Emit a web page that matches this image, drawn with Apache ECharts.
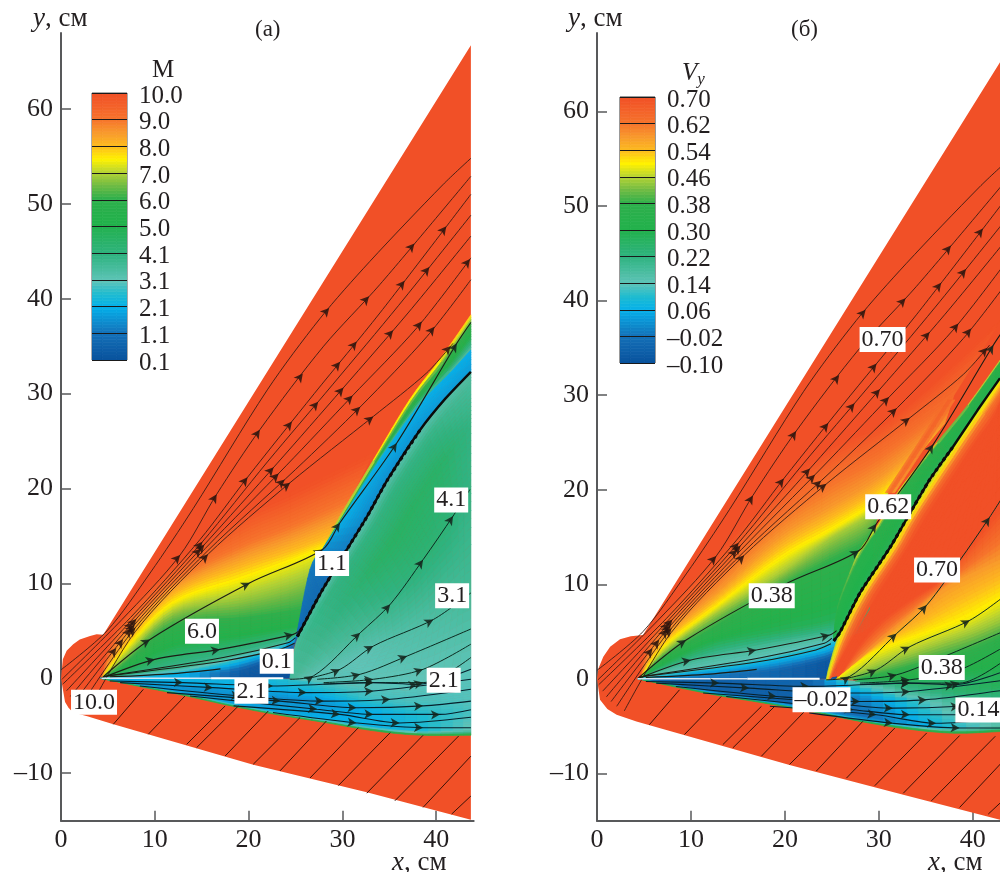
<!DOCTYPE html>
<html><head><meta charset="utf-8">
<style>html,body{margin:0;padding:0;background:#fff}#c{width:1000px;height:872px}</style>
<script src="https://cdn.jsdelivr.net/npm/echarts@6/dist/echarts.min.js"></script>
</head><body><div id="c"></div>
<script>
// ---- tick labels and colour levels
const xTicks=[0,10,20,30,40];
const yTicks=[-10,0,10,20,30,40,50,60];
const levelsM=['0.1','1.1','2.1','3.1','4.1','5.0','6.0','7.0','8.0','9.0','10.0'];
const levelsV=['–0.10','–0.02','0.06','0.14','0.22','0.30','0.38','0.46','0.54','0.62','0.70'];
// colour scale of the legend: [fraction, colour]
const palette=[[0,'#08519c'],[.1,'#1470b8'],[.2,'#05b0ea'],[.25,'#1fbcd0'],[.3,'#5ec4b8'],[.4,'#2fb380'],[.5,'#22b14c'],[.6,'#2eb04c'],[.65,'#6fbb44'],[.7,'#b5d334'],[.75,'#fff200'],[.8,'#fdbb1f'],[.85,'#f89a2c'],[.9,'#f6742c'],[1,'#f15027']];

// ---- panel (a), Mach number. Field rows: [x, y, M]
const domainA=[[43.7,66.7],[4.5,4.6],[3.8,4.65],[3.1,4.45],[2,4.1],[1.3,3.6],[.6,2.9],[.2,2],[0,0],[.43,-2.5],[.8,-3.1],[1.3,-3.6],[2.8,-4.0],[5.5,-4.8],[20.5,-9.1],[32.6,-12],[43.7,-14.9]];
const fanA=[
[[4.23,0,3.5],[8.42,.42,3.6],[13.75,1.12,3.6],[19.08,2.35,3.6],[24.06,3.76,3.5],[25.1,4.46,3.5]],
[[4.23,0,5],[6.65,.95,5],[11.98,3.4,5],[19.08,4.46,5],[24.42,5.34,5],[27.97,5.86,5]],
[[4.23,0,6],[6.65,1.47,6],[11.98,5.51,6],[19.08,6.21,6],[24.42,6.91,6],[27.97,7.62,6]],
[[4.23,0,6.7],[6.65,2,6.7],[11.98,6.74,6.7],[19.08,7.97,6.7],[24.42,9.37,6.7],[27.97,10.77,6.7]],
[[4.23,0,7.5],[6.65,2.88,7.5],[11.98,7.97,7.5],[19.08,10.42,7.5],[24.42,12.35,7.5],[27.97,13.76,7.5]],
[[4.23,0,8],[6.65,3.4,8],[11.98,8.84,8],[19.08,11.65,8],[24.42,13.41,8],[28.68,14.98,8]],
[[4.23,0,9],[6.29,4.46,9],[11.98,10.25,9],[19.08,13.93,9],[24.42,16.04,9],[30.81,18.84,9]],
[[4.23,0,10],[5.93,5.51,10],[11.98,12.18,10],[19.08,17.09,10],[24.42,19.55,10],[33.3,23.76,10]]];
const plateA=[
[[4.23,0,2.2],[8.42,0,2.2],[13.75,0,2],[19.08,0,.3],[24.06,0,.1],[24.6,0,.1]],
[[4.23,0,2.4],[8.42,.25,2.3],[13.75,.6,2],[19.08,.9,.6],[24.06,2.7,.3],[24.6,3,.2]],
[[4.23,0,3.2],[8.42,.42,3.2],[13.75,1.12,3.2],[19.08,2.35,3.2],[24.06,3.76,3],[25.1,4.46,2]]];
const lowerA=[
[[4.23,0,2.1],[8,-.02,2.1],[13,-.03,2.2],[18,-.03,2.2],[23,-.05,2.5],[28,-.4,3],[33,-1,3],[38,-1.2,3],[43.7,-.2,3]],
[[4.23,0,2],[8,-.3,2],[13,-.55,2.1],[18,-.8,2.2],[23,-1,2.2],[28,-1.3,2.5],[33,-2.2,2.8],[38,-2.6,2.9],[43.7,-2.2,3]],
[[4.23,0,1.8],[8,-.45,1.9],[13,-1,1.6],[18,-1.6,1.6],[23,-2.2,1.5],[28,-2.6,1.7],[33,-3.4,2.1],[38,-3.9,2.5],[43.7,-3.7,2.9]],
[[4.23,0,1.5],[8,-.7,1.8],[13,-1.6,1.8],[18,-2.65,1.9],[23,-3.6,2],[28,-4.35,2.1],[33,-5.15,2.2],[38,-5.6,2.4],[43.7,-5.5,3.2]],
[[4.23,0,3.5],[8,-.73,3.5],[13,-1.7,3.5],[18,-2.8,3.5],[23,-3.75,3.5],[28,-4.55,3.5],[33,-5.35,3.5],[38,-5.85,3.8],[43.7,-5.85,4.2]],
[[4.23,0,7.6],[8,-.78,7.6],[13,-1.78,7.6],[18,-2.88,7.6],[23,-3.83,7.6],[28,-4.63,7.6],[33,-5.48,7.6],[38,-5.98,7.6],[43.7,-6,7.6]]];
const rightA=[
[[24.4,0,3.6],[25.3,4.6,3.6],[27.8,9.2,3.2],[30.5,13.6,3.2],[32.6,17,3.2],[34.8,20.9,3.2],[38.3,26.2,3.2],[41,29.5,3.3],[43.7,32.3,3.4]],
[[24.6,0,3.5],[26,4.2,3.8],[28.6,8.9,4],[31.4,13.2,4],[33.5,16.5,4],[35.7,20.3,4],[39.2,25.6,3.9],[41.9,28.9,3.7],[43.7,30.8,3.6]],
[[24.9,0,3.5],[27.2,3.6,3.8],[30.2,7.8,4.1],[33.2,11.6,4.5],[35.5,14.6,4.6],[37.5,18,4.6],[40.5,22.5,4.5],[42.5,25,4.2],[43.7,26.5,4]],
[[25.5,0,3.3],[28.5,2.5,3.5],[32,5.5,3.7],[35,8.5,4],[37.5,11.2,4.2],[39.5,14,4.3],[41.5,16.5,4.2],[43,18.5,4],[43.7,19.5,4]],
[[26,-.1,3.1],[29,1,3.1],[32.5,2.5,3.1],[35.5,4,3.3],[38,5.6,3.4],[40,7.2,3.5],[42,9,3.6],[43,10,3.7],[43.7,10.5,3.7]],
[[24.5,-.1,3],[27,-.3,3],[30,-.6,3],[33,-1,3],[36,-1.2,3],[38.5,-1.2,3],[40.5,-1,3],[42.5,-.5,3],[43.7,-.2,3]]];
const stripA=[
[[27.97,13.76,8],[29.7,17,8],[33.3,23,8],[37.2,29.4,8],[40.4,33.6,8],[43.7,38.3,8]],
[[27.97,13.7,6],[29.9,16.9,6],[33.5,22.8,6],[37.5,29.1,6],[40.8,33.2,6],[43.7,37.3,6]],
[[28,13.7,5],[29.9,16.8,5],[33.65,22.8,5],[37.75,28.85,5],[41.15,32.7,5],[43.7,36,5]],
[[28,13.7,3.4],[29.9,16.7,3.4],[33.8,22.8,3.4],[38,28.6,3.4],[41.5,32.2,3.4],[43.7,34.6,3.4]]];
const blueA=[
[[24.6,2.5,.9],[25.1,4.5,1],[26.55,11.5,1.2],[28,13.8,1.6],[29.9,16.7,2.1],[33.8,22.8,2.1],[38,28.6,2.1],[41.5,32.2,2.1],[43.7,34.6,2.1]],
[[24.6,2.5,.8],[25.3,4.6,.8],[27.8,9.2,.9],[30.5,13.6,1.3],[32.6,17,1.5],[34.8,20.9,1.6],[38.3,26.2,1.7],[41,29.5,1.8],[43.7,32.3,1.8]]];
const shockA=[[25.2,4.4],[27.8,9.2],[30.5,13.6],[32.6,17],[34.8,20.9],[38.3,26.2],[41,29.5],[43.7,32.3]];
const labelsA=[['10.0',3.52,-2.53],['6.0',15.03,4.95],['0.1',23,1.79],['2.1',20.3,-1.37],['1.1',28.9,12.1],['4.1',41.6,18.8],['3.1',41.7,8.7],['2.1',40.8,-.2]];

// ---- panel (b), V_y. Field rows: [x, y, Vy]
const domainB=[[42.9,65.2],[4.9,4.64],[3.6,4.5],[2.45,4.18],[1.4,3.4],[.67,2.35],[.15,1.1],[0,0],[.32,-2.2],[1.1,-3.2],[2.09,-3.8],[4.2,-4.5],[20.5,-9.1],[32.6,-12.25],[42.9,-14.9]];
const fanB=[
[[4.5,0,.14],[7.06,.5,.14],[12.37,1.25,.14],[19.47,2.71,.14],[24.8,4,.14],[28.33,5,.14],[29,5.5,.14]],
[[4.5,0,.18],[7.06,.95,.18],[12.37,2.35,.18],[19.47,3.76,.18],[24.8,4.64,.18],[28.33,5.17,.18],[29,6,.18]],
[[4.5,0,.28],[7.06,1.47,.28],[12.37,3.76,.28],[19.47,5.17,.28],[24.8,6.23,.28],[28.33,7.63,.28],[29,8.5,.28]],
[[4.5,0,.38],[7.06,2.35,.38],[12.37,5.52,.38],[19.47,9.75,.38],[24.8,12.56,.38],[28.33,14.32,.38],[29.5,16,.38]],
[[4.5,0,.45],[7.06,2.88,.45],[12.37,6.75,.45],[19.47,11.15,.45],[24.8,14.85,.45],[28.69,17.14,.45],[30.5,19,.45]],
[[4.5,0,.5],[7.06,3.41,.5],[12.37,7.46,.5],[19.47,12.74,.5],[24.8,15.73,.5],[29.4,18.55,.5],[32,21,.5]],
[[4.5,0,.58],[6.7,4.11,.58],[12.37,8.87,.58],[19.47,15.03,.58],[24.8,18.19,.58],[30.1,21.36,.58],[37,27,.58]],
[[4.5,0,.64],[6.35,4.82,.64],[12.37,10.8,.64],[19.47,17.84,.64],[24.8,21.71,.64],[30.1,24.53,.64],[38,30,.64]],
[[4.5,0,.7],[6,5.52,.7],[12.37,12.91,.7],[19.47,20.31,.7],[24.8,24.53,.7],[31.9,28.05,.7],[43,38,.7]]];
const plateB=[
[[4.5,0,.06],[8.83,0,0],[14.15,0,-.02],[19.47,0,-.05],[24.43,0,-.09],[25.5,0,-.09]],
[[4.5,0,.06],[8.83,.24,0],[14.15,.52,-.02],[19.47,.95,-.05],[24.43,2,-.08],[25.5,2.7,-.06]],
[[4.5,0,.08],[8.83,.52,.06],[14.15,1.12,.06],[19.47,2,.06],[24.43,3.06,.06],[25.5,3.58,.05]],
[[4.5,0,.12],[8.83,.77,.14],[14.15,1.65,.14],[19.47,2.71,.14],[24.43,3.94,.14],[25.5,4.47,.12]]];
const lowerB=[
[[4.4,0,-.02],[8,-.02,-.04],[13,-.03,-.05],[18,-.03,-.05],[23,-.05,-.05],[28,-.25,.2],[33,-.55,.24],[38,-.7,.25],[42.9,.2,.28]],
[[4.4,0,-.02],[8,-.3,-.05],[13,-.55,-.06],[18,-.8,-.06],[23,-1,-.04],[28,-1,.1],[33,-1.2,.2],[38,-1.3,.25],[42.9,-.7,.28]],
[[4.4,0,-.03],[8,-.45,-.06],[13,-1,-.06],[18,-1.5,-.06],[23,-2.2,-.05],[28,-2.1,0],[33,-2.3,.1],[38,-2.5,.18],[42.9,-2.1,.22]],
[[4.4,0,-.02],[8,-.62,-.05],[13,-1.5,-.05],[18,-2.3,-.05],[23,-3.2,-.04],[28,-4,-.03],[33,-4.8,.03],[38,-5.2,.1],[42.9,-5,.16]],
[[4.4,0,.1],[8,-.7,.12],[13,-1.7,.12],[18,-2.52,.12],[23,-3.42,.12],[28,-4.42,.12],[33,-5.15,.14],[38,-5.6,.2],[42.9,-5.42,.22]],
[[4.4,0,.5],[8,-.79,.5],[13,-1.78,.5],[18,-2.6,.5],[23,-3.5,.5],[28,-4.5,.5],[33,-5.3,.5],[38,-5.75,.5],[42.9,-5.57,.5]]];
const coreB=[
[[24.4,-.1,.46],[24.6,.9,.46],[25.85,4.9,.46],[28,9.1,.46],[31.2,13.9,.46],[33.3,17.5,.46],[37.9,24.55,.46],[40.5,28.4,.46],[42.9,31.8,.46]],
[[24.6,-.1,.5],[24.85,.9,.5],[26.2,4.8,.5],[28.35,9,.5],[31.55,13.8,.5],[33.65,17.4,.5],[38.25,24.4,.5],[40.85,28.2,.5],[42.9,31.3,.5]],
[[24.8,0,.62],[25.2,1.1,.62],[26.7,4.7,.62],[28.9,8.9,.62],[32.1,13.7,.62],[34.2,17.3,.62],[38.8,24.2,.62],[41.4,28,.62],[42.9,30.2,.62]],
[[25,.2,.7],[25.6,1.4,.7],[27.4,4.6,.7],[29.7,8.8,.7],[32.9,13.6,.7],[35,17.2,.7],[39.6,24,.7],[42,27.3,.7],[42.9,29,.7]]];
const rightB=[
[[25,.2,.7],[27.4,4.6,.7],[32.9,13.6,.7],[39.6,24,.7],[42,27.3,.7],[42.9,29,.7]],
[[26,.4,.7],[28,3.5,.7],[30.1,5.9,.7],[33.65,8.5,.7],[37.2,11,.7],[42.9,18,.7]],
[[25.8,.1,.58],[28.3,2.35,.58],[31,4.7,.58],[33.65,6.9,.58],[37.2,9.75,.58],[42.9,12.6,.58]],
[[25.5,0,.5],[28,1.9,.5],[30.1,3.06,.5],[35,4.8,.5],[39.3,6.4,.5],[42.9,8.4,.5]],
[[26.56,0,.44],[29,1,.44],[31.9,2,.44],[37.2,3.76,.44],[40,4.7,.44],[42.9,5.9,.44]],
[[28.3,-.1,.34],[31,.2,.34],[33.65,.6,.34],[38.3,1.65,.34],[41,2.5,.34],[42.9,3.4,.34]],
[[27.5,-.25,.24],[31,-.4,.24],[34,-.6,.24],[38,-.7,.24],[41,-.4,.26],[42.9,.2,.28]]];
const stripB=[
[[25.2,4.4,.3],[25.6,7.6,.4],[26.9,11.2,.44],[28,13.65,.5],[29.8,16.1,.5],[32.2,20,.5],[36.2,25,.5],[39.5,29,.5],[42.9,33.7,.5]],
[[25.2,4.32,.3],[25.65,7.06,.33],[27.12,10.78,.34],[28.64,13.7,.34],[30.5,16.38,.34],[32.84,20.2,.34],[36.5,24.9,.34],[39.7,28.88,.34],[42.9,33.28,.34]],
[[25.2,4,.28],[25.85,4.9,.28],[28,9.1,.28],[31.2,13.9,.28],[33.3,17.5,.28],[35.4,21.05,.28],[37.9,24.55,.28],[40.5,28.4,.28],[42.9,31.8,.28]]];
const streakB=[
[[30.7,19.7,.58],[33.9,24.5,.61],[37.1,29.5,.63]],
[[31.2,19.7,.65],[34.4,24.5,.66],[37.6,29.5,.67]],
[[31.7,19.7,.56],[34.9,24.5,.59],[38.1,29.5,.61]]];
const shockB=[[25.2,4],[25.85,4.9],[28,9.1],[31.2,13.9],[33.3,17.5],[35.4,21.05],[37.9,24.55],[40.5,28.4],[42.9,31.8]];
const labelsB=[['0.70',30.4,35.9],['0.62',31,18.2],['0.70',36.2,11.5],['0.38',18.6,8.8],['0.38',36.7,1.2],['–0.02',23.9,-2.2],['0.14',40.6,-3.3]];

// ---- streamlines, the same flow in both panels
const upperStreams=[
[[0,.9],[4.9,5],[9.5,11.1],[14.1,17.9],[22,30.4],[27.6,37.9],[32.9,43.9],[40.7,52],[43.7,54.8]],
[[.1,-.1],[6.5,6.2],[12.7,13],[16.6,19.4],[21.2,26.2],[28,35],[34,41.5],[43.7,52.9]],
[[.2,-.6],[7.4,6.4],[14.8,14.6],[19.9,21.2],[27,30],[34,38.5],[43.7,51]],
[[.6,-1.3],[7.5,6.1],[15,14.3],[22,22.8],[29,31],[36,39.3],[43.7,48.8]],
[[1,-1.9],[7.6,5.8],[15.2,14],[23,22.6],[30,30.5],[37,38.5],[43.7,46.6]],
[[1.5,-2.4],[7.7,5.5],[15.4,13.7],[24,22.4],[31,29.7],[38,37],[43.7,44.3]],
[[2.1,-2.9],[7.8,5.2],[15.6,13.4],[25,22],[32,28.7],[39,36],[43.7,42]],
[[2.9,-3.4],[7.9,4.9],[15.7,13.1],[24.4,20.6],[33.3,27.6],[39,32.2],[41.8,35.3]]];
// where the arrow heads sit on the upper streamlines
const upperArrowMarks=[[21.2,26.2],[24.2,27.4],[20,21.1],[22.6,22.3],[23.2,21.6],[23.9,20.9],[24.6,20.4],[25.3,32.5],[28.85,34.1],[27.6,29],[30.5,30.3],[31.5,29.4],[32.2,28.3],[33.3,27.6],[29.2,38.5],[32.9,40.2],[31.9,35.2],[35.4,36.7],[38.45,37.6],[40,36.9],[40.8,35.7],[37,46.4],[36.5,42],[39.7,43],[40.6,48],[43.2,44.5],[16.6,19.4],[12.7,13],[15.2,14.3],[15.7,13.05],[15,13.6],[15.4,14],[7.7,5.7],[7.4,5.3],[8.1,6.2],[7.6,6],[7.9,5.4],[6.65,4.1],[5.9,3.2]];
const fanStreams=[
[[4.3,0],[9.49,4.1],[20.15,10.07],[27.9,13.58],[29.74,16.4],[35.8,24.8],[42.2,35.3],[43.7,37.5]],
[[4.3,0],[10,2],[16.95,3.05],[24.77,4.63],[25.5,5.1]],
[[4.5,.2],[17.3,2.2],[24.2,3.76],[25,4.3]],
[[4.9,.25],[17.3,1.83],[23.3,3.05],[24.9,3.7]],
[[5.2,.15],[12,.5],[17,1]]];
const rightStreams=[
[[24.4,-.1],[26.9,.25],[31.9,4.8],[35.1,7.8],[38.6,12.5],[41.8,17.1],[43.6,19.9]],
[[26.2,-.03],[29.75,.95],[33.3,3.4],[39.7,6.2],[43.7,9]],
[[27.3,-.1],[31.9,.43],[36.9,2.35],[43.7,5.2]],
[[28,-.45],[33.3,-.1],[38.6,.95],[43.7,3.6]],
[[28,-.6],[33.3,-.45],[38.6,-.45],[43.7,2.2]]];
const lowerStreams=[
[[5.2,-.28],[13,-.45],[22.6,-.8],[33.3,-.45],[38,-.63],[43.7,.95]],
[[6.3,-.45],[16.2,-.98],[26.2,-1.5],[33.3,-1.33],[43.7,-.1]],
[[8.4,-.8],[19.1,-1.86],[28,-2.4],[35.1,-2.2],[43.7,-1.15]],
[[11.3,-1.5],[23.4,-2.4],[31.5,-3.1],[38.6,-2.9],[43.7,-2.4]],
[[13.75,-1.86],[27.3,-3.26],[33.3,-3.8],[40.4,-3.8],[43.7,-3.3]],
[[18.4,-2.9],[29.75,-3.8],[36.1,-4.7],[43.7,-4.1]],
[[22.6,-3.6],[31.5,-4.7],[38.6,-5.2],[43.7,-5.2]]];
const incomingStreams=[
[[5.58,-4.84],[8.78,-1.16]],[[9.31,-5.89],[13.22,-1.86]],[[13.4,-6.95],[17.5,-2.91]],[[14.46,-7.3],[18.91,-2.91]],
[[17.5,-8.18],[22.1,-3.44]],[[20.5,-9.05],[25.48,-4.14]],[[23.35,-9.75],[28.3,-4.49]],[[26.55,-10.5],[31.7,-5.2]],
[[29.57,-11.3],[35.1,-5.72]],[[32.6,-12.1],[38.6,-6]],[[35.6,-12.9],[42.4,-6.07]],[[38.6,-13.6],[43.7,-8.2]],[[41.65,-14.3],[43.7,-12.4]]];

// ---- drawing helpers
const FONT='"Liberation Serif",serif', INK='#231f20';
const hex=c=>[1,3,5].map(i=>parseInt(c.substr(i,2),16));
function colorAt(f){
  f=Math.max(0,Math.min(1,f));
  for(let i=1;i<palette.length;i++){
    if(f<=palette[i][0]){
      const a=palette[i-1],b=palette[i],t=(f-a[0])/(b[0]-a[0]),A=hex(a[1]),B=hex(b[1]);
      return 'rgb('+A.map((v,k)=>Math.round(v+(B[k]-v)*t)).join(',')+')';
    }
  }
  return palette[palette.length-1][1];
}
const fracM=v=>(v-.1)/9.9, fracV=v=>(v+.1)/.8;
function spline(P,j,t){
  const n=P.length,p0=P[Math.max(j-1,0)],p1=P[j],p2=P[j+1],p3=P[Math.min(j+2,n-1)],t2=t*t,t3=t2*t;
  return [0,1].map(k=>.5*(2*p1[k]+(p2[k]-p0[k])*t+(2*p0[k]-5*p1[k]+4*p2[k]-p3[k])*t2+(3*p1[k]-p0[k]-3*p2[k]+p3[k])*t3));
}
const dist=(a,b)=>Math.hypot(a[0]-b[0],a[1]-b[1]);
function mesh(rows,frac,g){
  return {type:'custom',coordinateSystem:'cartesian2d',xAxisIndex:g,yAxisIndex:g,clip:true,silent:true,animation:false,z:2,
    data:[[rows[0][0][0],rows[0][0][1]]],
    renderItem:(p,api)=>{
      const pix=rows.map(r=>r.map(q=>api.coord([q[0],q[1]]))),children=[];
      for(let i=0;i<rows.length-1;i++){
        const A=pix[i],B=pix[i+1];
        for(let j=0;j<A.length-1;j++){
          const na=Math.max(1,Math.min(8,Math.ceil(Math.max(dist(A[j],A[j+1]),dist(B[j],B[j+1]))/12)));
          const nb=Math.max(1,Math.min(10,Math.ceil(Math.max(dist(A[j],B[j]),dist(A[j+1],B[j+1]))/3)));
          const va=rows[i][j][2],vb=rows[i][j+1][2],vc=rows[i+1][j][2],vd=rows[i+1][j+1][2];
          let prev=null;
          for(let s=0;s<=na;s++){
            const t=s/na,a=spline(A,j,t),b=spline(B,j,t),col=[];
            for(let m=0;m<=nb;m++){const w=m/nb;col.push([a[0]+(b[0]-a[0])*w,a[1]+(b[1]-a[1])*w]);}
            if(prev){
              for(let m=0;m<nb;m++){
                const tc=(s-.5)/na,wc=(m+.5)/nb;
                const v=(va*(1-tc)+vb*tc)*(1-wc)+(vc*(1-tc)+vd*tc)*wc,c=colorAt(frac(v));
                children.push({type:'polygon',shape:{points:[prev[m],col[m],col[m+1],prev[m+1]]},style:{fill:c,stroke:c,lineWidth:.7}});
              }
            }
            prev=col;
          }
        }
      }
      return {type:'group',children};
    }};
}
function solid(pts,g,color){
  return {type:'custom',coordinateSystem:'cartesian2d',xAxisIndex:g,yAxisIndex:g,clip:true,silent:true,animation:false,z:1,
    data:[pts[0]],
    renderItem:(p,api)=>({type:'polygon',shape:{points:pts.map(q=>api.coord(q))},style:{fill:color}})};
}
function lineS(pts,g,color,width,smooth,type){
  return {type:'line',xAxisIndex:g,yAxisIndex:g,data:pts,showSymbol:false,smooth:smooth===undefined?.3:smooth,clip:true,silent:true,animation:false,z:3,
    lineStyle:{color,width,type:type||'solid'}};
}
function arrowSeries(data,g,color){
  return {type:'scatter',xAxisIndex:g,yAxisIndex:g,data,symbol:'arrow',symbolSize:[7,9],clip:true,silent:true,animation:false,z:4,itemStyle:{color,opacity:.85}};
}
function arrows(lines,g,color){
  const data=[];
  lines.forEach(L=>{
    for(let i=1;i<L.length-1;i++){
      const deg=Math.atan2(L[i+1][1]-L[i-1][1],L[i+1][0]-L[i-1][0])*180/Math.PI;
      data.push({value:L[i],symbolRotate:deg-90});
    }
  });
  return arrowSeries(data,g,color);
}
// put each mark on its nearest streamline, turned along that line
function snappedArrows(marks,lines,g,color){
  const data=marks.map(m=>{
    let best=null;
    lines.forEach(L=>{
      for(let i=0;i<L.length-1;i++){
        const a=L[i],b=L[i+1],dx=b[0]-a[0],dy=b[1]-a[1];
        const t=Math.max(0,Math.min(1,((m[0]-a[0])*dx+(m[1]-a[1])*dy)/(dx*dx+dy*dy)));
        const q=[a[0]+dx*t,a[1]+dy*t],d=dist(q,m);
        if(!best||d<best.d)best={d,q,deg:Math.atan2(dy,dx)*180/Math.PI};
      }
    });
    return {value:best.q,symbolRotate:best.deg-90};
  });
  return arrowSeries(data,g,color);
}
function boxes(list,g){
  return {type:'scatter',xAxisIndex:g,yAxisIndex:g,symbol:'circle',symbolSize:1,itemStyle:{color:'transparent',opacity:1},silent:true,animation:false,z:6,clip:false,
    data:list.map(l=>({value:[l[1],l[2]],name:l[0]})),
    label:{show:true,position:'inside',opacity:1,formatter:'{b}',fontFamily:FONT,fontSize:24,color:INK,backgroundColor:'#fff',padding:[1,2,0,2],lineHeight:24}};
}
function legendRows(labels){
  return labels.map((t,i)=>{const v=parseFloat(t.replace('–','-'));return [[0,i,v],[1,i,v]];});
}
function fieldSeries(g,domain,meshes,frac,shock,labels){
  const out=[solid(domain,g,'#f15027')];
  meshes.forEach(m=>out.push(mesh(m,frac,g)));
  upperStreams.forEach(L=>out.push(lineS(L,g,'#3a1c14',.9)));
  fanStreams.forEach(L=>out.push(lineS(L,g,'#1c1c14',1.1)));
  rightStreams.forEach(L=>out.push(lineS(L,g,'#0c2a20',1)));
  lowerStreams.forEach(L=>out.push(lineS(L,g,'#06202c',1.1)));
  incomingStreams.forEach(L=>out.push(lineS(L,g,'#3a1208',1,false)));
  out.push(lineS(shock,g,'#0b0b0b',2.4,.2));
  out.push(lineS(shock.slice(0,-2),g,'#0b0b0b',3.2,.2,'dotted'));
  out.push(lineS([[4.3,0],[16,.02]],g,'#d6e6f2',1.5,false));
  out.push(lineS([[16,.02],[23.7,.02]],g,'#ffffff',2,false));
  out.push(snappedArrows(upperArrowMarks,upperStreams,g,'#2a140e'));
  out.push(arrows(fanStreams.slice(0,2).concat(rightStreams,lowerStreams),g,'#14241c'));
  out.push(boxes(labels,g));
  return out;
}
function axisPair(g,xMax){
  const line={show:true,onZero:false,lineStyle:{color:'#58595b',width:2}};
  const tick={show:true,inside:true,length:10,lineStyle:{color:'#58595b',width:1.5}};
  return {
    x:{type:'value',gridIndex:g,min:0,max:xMax,position:'bottom',axisLine:line,splitLine:{show:false},
       axisTick:Object.assign({customValues:xTicks},tick),
       axisLabel:{customValues:xTicks,fontFamily:FONT,fontSize:26,color:INK,margin:6}},
    y:(yMax)=>({type:'value',gridIndex:g,min:-15,max:yMax,position:'left',axisLine:line,splitLine:{show:false},
       axisTick:Object.assign({customValues:yTicks},tick),
       axisLabel:{customValues:yTicks,fontFamily:FONT,fontSize:26,color:INK,margin:8,formatter:v=>v<0?'–'+(-v):''+v}})
  };
}
function legendAxes(g,labels){
  return {
    x:{type:'value',gridIndex:g,min:0,max:1,show:false},
    y:{type:'value',gridIndex:g,min:0,max:labels.length-1,interval:1,position:'right',z:5,
       axisLine:{show:false},axisTick:{show:false},
       splitLine:{show:true,lineStyle:{color:'#1a1a1a',width:1}},
       axisLabel:{margin:12,formatter:v=>'{t|'+labels[v]+'}',
         rich:{t:{fontFamily:FONT,fontSize:25,color:INK,padding:[6,0,0,0]}}}}
  };
}

const pa=axisPair(0,44),pb=axisPair(1,42.9),la=legendAxes(2,levelsM),lb=legendAxes(3,levelsV);
const serif=(x)=>Object.assign({fontFamily:FONT,fontSize:25,color:INK,fontWeight:'normal'},x||{});
const richStyle={rich:{i:serif({fontStyle:'italic',fontSize:27}),n:serif({fontSize:27}),s:serif({fontStyle:'italic',fontSize:17,padding:[12,0,0,0]}),v:serif({fontStyle:'italic'})}};
const title=(text,left,top)=>({text,left,top,padding:0,textStyle:Object.assign(serif(),richStyle)});

const option={
  animation:false,backgroundColor:'#fff',
  title:[
    title('{i|y}{n|, см}',33,5),title('{i|y}{n|, см}',568,5),
    title('{i|x}{n|, см}',392,849),title('{i|x}{n|, см}',928,849),
    {text:'(а)',left:255,top:18,padding:0,textStyle:serif({fontSize:23})},
    {text:'(б)',left:791,top:18,padding:0,textStyle:serif({fontSize:23})},
    {text:'M',left:152,top:58,padding:0,textStyle:serif()},
    title('{v|V}{s|y}',682,59)
  ],
  grid:[
    {left:61,top:33,width:412.7,height:787.7},
    {left:597,top:33,width:403,height:787.7},
    {left:92,top:93,width:35,height:267,show:true,borderColor:'#58595b',borderWidth:1,backgroundColor:'transparent'},
    {left:620,top:97,width:35,height:266,show:true,borderColor:'#333',borderWidth:1,backgroundColor:'transparent'}
  ],
  xAxis:[pa.x,pb.x,la.x,lb.x],
  yAxis:[pa.y(68),pb.y(68.3),la.y,lb.y],
  series:[
    ...fieldSeries(0,domainA,[fanA,plateA,lowerA,rightA,stripA,blueA],fracM,shockA,labelsA),
    ...fieldSeries(1,domainB,[fanB,streakB,plateB,lowerB,coreB,rightB,stripB],fracV,shockB,labelsB),
    mesh(legendRows(levelsM),fracM,2),
    mesh(legendRows(levelsV),fracV,3)
  ]
};
echarts.init(document.getElementById('c'),null,{renderer:'canvas'}).setOption(option);
</script></body></html>
